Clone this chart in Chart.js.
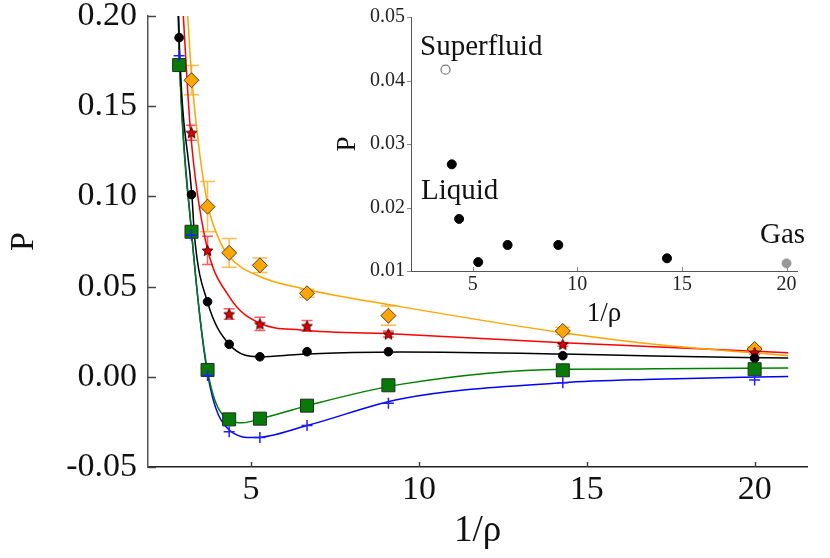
<!DOCTYPE html>
<html>
<head>
<meta charset="utf-8">
<script src="https://cdn.jsdelivr.net/npm/chart.js@4.4.1/dist/chart.umd.min.js"></script>
<style>
  body { margin: 0; background: #fff; }
  #wrap { position: relative; width: 830px; height: 558px; }
  #mainChart { position: absolute; left: 0; top: 0; }
  #insetChart { position: absolute; left: 330px; top: 0; }
  .note { position: absolute; font-family: "Liberation Serif", serif; font-size: 29px; line-height: 29px; color: #111; white-space: nowrap; }
</style>
</head>
<body>
<div id="wrap">
  <canvas id="mainChart" width="830" height="558"></canvas>
  <canvas id="insetChart" width="500" height="340"></canvas>
  <div class="note" style="left:420px; top:31px;">Superfluid</div>
  <div class="note" style="left:421px; top:175px;">Liquid</div>
  <div class="note" style="left:760px; top:219px;">Gas</div>
</div>
<script>
// 1/rho of the measured points
const rhoInv = [2.857, 3.226, 3.704, 4.348, 5.263, 6.667, 9.091, 14.286, 20.0];

// measured pressures, one array per series (null = off the chart)
const pBlack  = [0.188, 0.101, 0.0416, 0.018, 0.0111, 0.0139, 0.0139, 0.0117, 0.0103];
const pGreen  = [0.1728, 0.0804, 0.0038, -0.0236, -0.0232, -0.016, -0.0047, 0.0036, 0.0042];
const pBlue   = [0.178, 0.0785, 0.0007, -0.0304, -0.0337, -0.027, -0.0147, -0.0033, -0.0018];
const pRed    = [null, 0.1353, 0.0701, 0.0348, 0.0293, 0.0282, 0.0237, 0.0180, 0.0135];
const errRed  = [null, 0.0042, 0.0078, 0.0029, 0.0037, 0.0030, 0.0017, 0.0010, 0.0008];
const pOrange = [null, 0.1644, 0.0943, 0.0687, 0.0618, 0.0463, 0.0339, 0.0254, 0.0154];
const errOrange = [null, 0.0081, 0.0139, 0.0080, 0.0040, 0.0022, 0.0053, 0.0020, 0.0012];

// fitted curves
const fitBlackX = [2.835, 2.857, 3.24, 3.32, 3.70, 4.35, 5.26, 6.5, 9.45, 14.29, 17, 21.0];
const fitBlackP = [0.205, 0.188, 0.100, 0.077, 0.0416, 0.018, 0.0111, 0.0125, 0.0137, 0.0126, 0.0115, 0.0104];
const fitGreenX = [2.82, 2.87, 3.22, 3.70, 4.35, 4.75, 5.26, 6.67, 9.45, 14.29, 17, 21.0];
const fitGreenP = [0.21, 0.173, 0.0814, 0.0038, -0.024, -0.0255, -0.0234, -0.016, -0.0042, 0.0042, 0.0044, 0.0049];
const fitBlueX  = [2.82, 2.87, 3.22, 3.70, 4.35, 5.1, 6.67, 9.45, 14.29, 17, 21.0];
const fitBlueP  = [0.21, 0.175, 0.082, 0.0022, -0.0295, -0.0337, -0.027, -0.0123, -0.0033, -0.0014, 0.0002];
const fitRedX   = [2.95, 3.20, 3.63, 4.35, 5.26, 6.49, 9.45, 14.29, 17, 21.0];
const fitRedP   = [0.21, 0.1353, 0.0767, 0.0444, 0.0297, 0.026, 0.0236, 0.0189, 0.0167, 0.0134];
const fitOrangeX = [3.08, 3.24, 3.66, 4.01, 4.35, 5.26, 6.49, 9.45, 14.29, 17, 21.0];
const fitOrangeP = [0.21, 0.1644, 0.100, 0.0777, 0.0667, 0.0556, 0.0491, 0.0389, 0.0244, 0.0180, 0.0117];

// inset
const insetLiquidX = [4.0, 4.348, 5.263, 6.667, 9.091, 14.286];
const insetLiquidP = [0.0268, 0.0182, 0.0114, 0.0141, 0.0141, 0.0120];
const insetSuperX = [3.70];
const insetSuperP = [0.0417];
const insetGasX = [20.0];
const insetGasP = [0.0112];

const mainTicksY = [-0.05, 0.00, 0.05, 0.10, 0.15, 0.20];

function pts(xs, ys, errs) {
  const out = [];
  xs.forEach((x, i) => {
    if (ys[i] === null) return;
    const p = { x: x, y: ys[i] };
    if (errs) p.err = errs[i];
    out.push(p);
  });
  return out;
}

// red filled star used as point image
function makeStar(size, fill, stroke) {
  const c = document.createElement('canvas');
  c.width = size; c.height = size;
  const g = c.getContext('2d');
  const cx = size / 2, cy = size / 2 + 0.5, R = size / 2 - 0.8, r = R * 0.45;
  g.beginPath();
  for (let i = 0; i < 10; i++) {
    const a = -Math.PI / 2 + i * Math.PI / 5;
    const rad = i % 2 ? r : R;
    const px = cx + rad * Math.cos(a), py = cy + rad * Math.sin(a);
    if (i === 0) g.moveTo(px, py); else g.lineTo(px, py);
  }
  g.closePath();
  g.fillStyle = fill;
  g.fill();
  g.lineWidth = 1;
  g.strokeStyle = stroke;
  g.stroke();
  return c;
}

// short tick marks drawn along both axes
const tickMarks = {
  id: 'tickMarks',
  afterDraw(chart, args, opts) {
    const ctx = chart.ctx;
    const xs = chart.scales.x, ys = chart.scales.y;
    ctx.save();
    ctx.strokeStyle = opts.color;
    ctx.lineWidth = opts.width;
    xs.ticks.forEach(t => {
      const px = Math.round(xs.getPixelForValue(t.value)) + 0.5;
      ctx.beginPath();
      ctx.moveTo(px, ys.bottom);
      ctx.lineTo(px, ys.bottom + opts.xLen);
      ctx.stroke();
    });
    ys.ticks.forEach(t => {
      const py = Math.round(ys.getPixelForValue(t.value)) + 0.5;
      ctx.beginPath();
      ctx.moveTo(xs.left, py);
      ctx.lineTo(xs.left + opts.yLen, py);
      ctx.stroke();
    });
    ctx.restore();
  }
};

// vertical error bars with caps, taken from point.err
const errorBars = {
  id: 'errorBars',
  beforeDatasetsDraw(chart) {
    const ctx = chart.ctx;
    const xs = chart.scales.x, ys = chart.scales.y;
    const area = chart.chartArea;
    ctx.save();
    ctx.beginPath();
    ctx.rect(area.left, area.top, area.right - area.left, area.bottom - area.top);
    ctx.clip();
    chart.data.datasets.forEach(ds => {
      if (!ds.errColor) return;
      ctx.strokeStyle = ds.errColor;
      ctx.lineWidth = 1.5;
      ds.data.forEach(p => {
        if (!p.err) return;
        const px = xs.getPixelForValue(p.x);
        const y1 = ys.getPixelForValue(p.y + p.err);
        const y2 = ys.getPixelForValue(p.y - p.err);
        const w = ds.capWidth / 2;
        ctx.beginPath();
        ctx.moveTo(px, y1); ctx.lineTo(px, y2);
        ctx.moveTo(px - w, y1); ctx.lineTo(px + w, y1);
        ctx.moveTo(px - w, y2); ctx.lineTo(px + w, y2);
        ctx.stroke();
      });
    });
    ctx.restore();
  }
};

const serif = '"Liberation Serif", "Times New Roman", serif';

function fitLine(xs, ys, color) {
  return {
    data: pts(xs, ys),
    showLine: true,
    borderColor: color,
    borderWidth: 1.5,
    pointRadius: 0,
    cubicInterpolationMode: 'monotone',
    order: 2
  };
}

const starImg = makeStar(13, '#e00000', '#400000');

new Chart(document.getElementById('mainChart'), {
  type: 'scatter',
  data: {
    datasets: [
      fitLine(fitOrangeX, fitOrangeP, '#FFA500'),
      fitLine(fitRedX, fitRedP, '#FF0000'),
      fitLine(fitBlackX, fitBlackP, '#000000'),
      fitLine(fitGreenX, fitGreenP, '#008000'),
      fitLine(fitBlueX, fitBlueP, '#0000FF'),
      {
        data: pts(rhoInv, pBlue),
        pointStyle: 'cross', pointRadius: 5.5, borderColor: '#2020ff', borderWidth: 1.5, order: 1
      },
      {
        data: pts(rhoInv, pGreen),
        pointStyle: 'rect', pointRadius: 9.2, backgroundColor: '#087a08', borderColor: '#1c301c', borderWidth: 1, order: 1
      },
      {
        data: pts(rhoInv, pBlack),
        pointStyle: 'circle', pointRadius: 4.3, backgroundColor: '#000', borderColor: '#000', borderWidth: 1, order: 1
      },
      {
        data: pts(rhoInv, pRed, errRed),
        pointStyle: starImg, errColor: 'rgba(255,40,40,0.75)', capWidth: 11, order: 1
      },
      {
        data: pts(rhoInv, pOrange, errOrange),
        pointStyle: 'rectRot', pointRadius: 7.5, backgroundColor: '#FFA500', borderColor: '#4a4030', borderWidth: 1,
        errColor: 'rgba(255,170,30,0.8)', capWidth: 15, order: 1
      }
    ]
  },
  options: {
    responsive: false,
    animation: false,
    layout: { padding: { top: 16, right: 23, left: 0, bottom: 0 } },
    plugins: {
      legend: { display: false },
      tooltip: { enabled: false },
      tickMarks: { color: '#444', width: 1.5, xLen: -5, yLen: 8 }
    },
    scales: {
      x: {
        type: 'linear',
        min: 1.93, max: 21.56,
        grid: { display: false, drawTicks: false },
        border: { display: true, color: '#222', width: 1.5 },
        ticks: {
          stepSize: 5, includeBounds: false, padding: 3, color: '#111',
          font: { family: serif, size: 34, lineHeight: 1.2 }
        },
        title: {
          display: true, text: '1/ρ', color: '#111',
          font: { family: serif, size: 37, lineHeight: 1.2 },
          padding: { top: 0, bottom: 5 }
        },
        afterFit(scale) { scale.height = 91; }
      },
      y: {
        type: 'linear',
        min: -0.05, max: 0.20,
        grid: { display: false, drawTicks: false },
        border: { display: true, color: '#555', width: 1.5 },
        afterBuildTicks(scale) { scale.ticks = mainTicksY.map(v => ({ value: v })); },
        ticks: {
          padding: 11, color: '#111',
          font: { family: serif, size: 34, lineHeight: 0.2 },
          callback: v => v.toFixed(2)
        },
        title: {
          display: true, text: 'P', color: '#111',
          font: { family: serif, size: 34, lineHeight: 1.2 },
          padding: { top: 3.6, bottom: 0 }
        },
        afterFit(scale) { scale.width = 148; }
      }
    }
  },
  plugins: [tickMarks, errorBars]
});

new Chart(document.getElementById('insetChart'), {
  type: 'scatter',
  data: {
    datasets: [
      {
        data: pts(insetLiquidX, insetLiquidP),
        pointStyle: 'circle', pointRadius: 4.5, backgroundColor: '#000', borderColor: '#000', borderWidth: 1
      },
      {
        data: pts(insetSuperX, insetSuperP),
        pointStyle: 'circle', pointRadius: 4.5, backgroundColor: '#fff', borderColor: '#777', borderWidth: 1.2
      },
      {
        data: pts(insetGasX, insetGasP),
        pointStyle: 'circle', pointRadius: 4.5, backgroundColor: '#999', borderColor: '#999', borderWidth: 1
      }
    ]
  },
  options: {
    responsive: false,
    animation: false,
    layout: { padding: { top: 17, right: 33, left: 0, bottom: 0 } },
    plugins: {
      legend: { display: false },
      tooltip: { enabled: false },
      tickMarks: { color: '#888', width: 1, xLen: -4, yLen: -4 }
    },
    scales: {
      x: {
        type: 'linear',
        min: 2.05, max: 20.5,
        grid: { display: false, drawTicks: false },
        border: { display: true, color: '#555', width: 1 },
        ticks: {
          stepSize: 5, includeBounds: false, padding: 2, color: '#222',
          font: { family: serif, size: 20, lineHeight: 1.2 }
        },
        title: {
          display: true, text: '1/ρ', color: '#111',
          font: { family: serif, size: 27, lineHeight: 1.2 },
          padding: { top: 0, bottom: 9.6 }
        },
        afterFit(scale) { scale.height = 69; }
      },
      y: {
        type: 'linear',
        min: 0.01, max: 0.05,
        grid: { display: false, drawTicks: false },
        border: { display: true, color: '#555', width: 1 },
        ticks: {
          stepSize: 0.01, padding: 6, color: '#222',
          font: { family: serif, size: 20, lineHeight: 0.2 },
          callback: v => v.toFixed(2)
        },
        title: {
          display: true, text: 'P', color: '#111',
          font: { family: serif, size: 27, lineHeight: 1.2 },
          padding: { top: 2, bottom: 0 }
        },
        afterFit(scale) { scale.width = 81; }
      }
    }
  },
  plugins: [tickMarks]
});
</script>
</body>
</html>
